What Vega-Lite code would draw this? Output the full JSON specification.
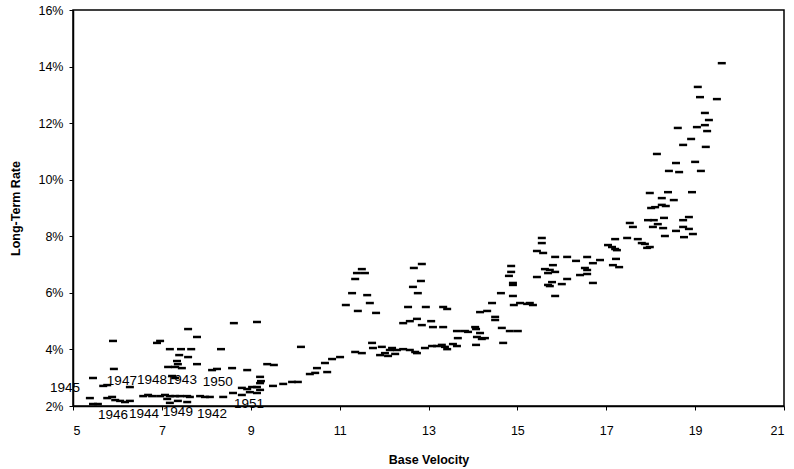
{
  "$schema": "https://vega.github.io/schema/vega-lite/v6.json",
  "autosize": {"type": "none"},
  "width": 711,
  "height": 396,
  "padding": {"left": 73, "top": 10, "right": 10, "bottom": 63},
  "background": "white",
  "config": {
    "view": {"stroke": "black", "strokeWidth": 1.5},
    "font": "Liberation Sans",
    "axis": {
      "labelFont": "Liberation Sans", "labelFontSize": 12.5, "labelColor": "black",
      "titleFont": "Liberation Sans", "titleFontSize": 12.5, "titleFontWeight": "bold", "titleColor": "black",
      "domainColor": "black", "domainWidth": 1.5, "tickColor": "black", "tickSize": 4, "grid": false
    }
  },
  "datasets": {
    "pts": [
      {"v":5.38,"r":2.28},{"v":5.45,"r":2.07},{"v":5.56,"r":2.07},{"v":5.45,"r":2.99},{"v":5.68,"r":2.71},
      {"v":5.77,"r":2.74},{"v":5.77,"r":2.28},{"v":5.88,"r":2.32},{"v":5.95,"r":2.21},{"v":6.06,"r":2.18},
      {"v":6.17,"r":2.14},{"v":6.28,"r":2.18},{"v":5.90,"r":4.30},{"v":5.92,"r":3.31},{"v":6.28,"r":2.67},
      {"v":6.58,"r":2.35},{"v":6.69,"r":2.39},{"v":6.78,"r":2.35},{"v":6.89,"r":4.23},{"v":6.96,"r":4.30},
      {"v":6.96,"r":2.35},{"v":7.07,"r":2.39},{"v":7.12,"r":2.25},{"v":7.18,"r":2.11},{"v":7.18,"r":2.35},
      {"v":7.30,"r":2.35},{"v":7.36,"r":2.18},{"v":7.41,"r":2.35},{"v":7.57,"r":2.14},{"v":7.57,"r":2.35},
      {"v":7.63,"r":2.32},{"v":7.86,"r":2.35},{"v":7.97,"r":2.32},{"v":8.08,"r":2.32},{"v":8.38,"r":2.32},
      {"v":7.18,"r":4.01},{"v":7.43,"r":4.01},{"v":7.66,"r":4.01},{"v":7.59,"r":4.72},{"v":7.79,"r":4.44},
      {"v":7.39,"r":3.80},{"v":7.59,"r":3.73},{"v":7.34,"r":3.59},{"v":7.36,"r":3.48},{"v":7.14,"r":3.38},
      {"v":7.30,"r":3.38},{"v":7.45,"r":3.34},{"v":7.79,"r":3.48},{"v":7.23,"r":3.06},{"v":7.30,"r":2.99},
      {"v":8.13,"r":3.27},{"v":8.24,"r":3.31},{"v":8.33,"r":4.01},{"v":8.58,"r":3.34},{"v":8.62,"r":4.93},
      {"v":9.14,"r":4.97},{"v":8.92,"r":3.27},{"v":8.60,"r":2.46},{"v":8.80,"r":2.64},{"v":8.80,"r":2.39},
      {"v":8.92,"r":2.60},{"v":8.98,"r":2.49},{"v":9.03,"r":2.67},{"v":9.14,"r":2.67},{"v":9.14,"r":2.46},
      {"v":9.21,"r":2.57},{"v":9.21,"r":3.03},{"v":9.23,"r":2.88},{"v":9.21,"r":2.81},{"v":9.37,"r":3.48},
      {"v":9.52,"r":3.45},{"v":9.50,"r":2.71},{"v":9.73,"r":2.78},{"v":9.93,"r":2.85},{"v":10.06,"r":2.85},
      {"v":10.13,"r":4.09},{"v":10.33,"r":3.13},{"v":10.45,"r":3.17},{"v":10.49,"r":3.34},{"v":10.72,"r":3.20},
      {"v":10.67,"r":3.52},{"v":10.83,"r":3.66},{"v":11.01,"r":3.73},{"v":11.35,"r":3.91},{"v":11.50,"r":3.87},
      {"v":11.73,"r":4.23},{"v":11.75,"r":4.05},{"v":11.95,"r":4.09},{"v":11.91,"r":3.80},{"v":12.02,"r":3.87},
      {"v":12.13,"r":3.98},{"v":12.18,"r":4.05},{"v":12.29,"r":3.98},{"v":12.43,"r":4.01},{"v":12.70,"r":3.91},
      {"v":12.74,"r":3.87},{"v":12.92,"r":4.05},{"v":13.08,"r":4.12},{"v":13.30,"r":4.16},{"v":13.37,"r":4.09},
      {"v":13.42,"r":4.01},{"v":13.55,"r":4.19},{"v":13.64,"r":4.12},{"v":11.50,"r":6.84},{"v":11.39,"r":6.70},
      {"v":11.57,"r":6.70},{"v":11.35,"r":6.49},{"v":11.28,"r":5.99},{"v":11.62,"r":5.92},{"v":11.14,"r":5.57},
      {"v":11.68,"r":5.64},{"v":11.41,"r":5.36},{"v":11.82,"r":5.29},{"v":12.85,"r":7.02},{"v":12.67,"r":6.88},
      {"v":12.83,"r":6.42},{"v":12.65,"r":6.21},{"v":12.76,"r":5.99},{"v":12.54,"r":5.50},{"v":12.94,"r":5.50},
      {"v":13.33,"r":5.50},{"v":13.42,"r":5.43},{"v":12.43,"r":4.93},{"v":12.58,"r":5.00},{"v":12.74,"r":5.08},
      {"v":12.85,"r":4.86},{"v":13.06,"r":5.00},{"v":13.10,"r":4.79},{"v":13.33,"r":4.79},{"v":12.09,"r":3.77},
      {"v":12.25,"r":3.84},{"v":12.58,"r":3.98},{"v":13.19,"r":4.12},{"v":13.64,"r":4.65},{"v":13.82,"r":4.65},
      {"v":13.66,"r":4.40},{"v":13.89,"r":4.62},{"v":14.05,"r":4.79},{"v":14.07,"r":4.72},{"v":14.16,"r":4.58},
      {"v":14.27,"r":4.40},{"v":14.09,"r":4.44},{"v":14.20,"r":4.37},{"v":14.07,"r":4.16},{"v":14.16,"r":5.32},
      {"v":14.32,"r":5.36},{"v":14.50,"r":5.15},{"v":14.50,"r":5.04},{"v":14.43,"r":5.64},{"v":14.68,"r":4.23},
      {"v":14.65,"r":4.76},{"v":14.83,"r":4.65},{"v":15.01,"r":4.65},{"v":14.86,"r":6.95},{"v":14.86,"r":6.74},
      {"v":14.81,"r":6.60},{"v":14.90,"r":6.35},{"v":14.90,"r":6.28},{"v":14.90,"r":5.89},{"v":14.63,"r":5.99},
      {"v":14.92,"r":5.57},{"v":15.06,"r":5.64},{"v":15.28,"r":5.64},{"v":15.22,"r":5.61},{"v":15.35,"r":5.57},
      {"v":15.44,"r":7.48},{"v":15.58,"r":7.41},{"v":15.55,"r":7.94},{"v":15.55,"r":7.76},{"v":15.62,"r":6.84},
      {"v":15.69,"r":6.70},{"v":15.73,"r":6.81},{"v":15.69,"r":6.28},{"v":15.78,"r":6.38},{"v":15.73,"r":6.24},
      {"v":15.85,"r":6.74},{"v":15.85,"r":7.27},{"v":15.80,"r":6.98},{"v":15.44,"r":6.56},{"v":15.85,"r":5.89},
      {"v":16.00,"r":6.31},{"v":16.12,"r":7.27},{"v":16.12,"r":6.49},{"v":16.32,"r":7.13},{"v":16.57,"r":7.27},
      {"v":16.52,"r":6.88},{"v":16.57,"r":6.81},{"v":16.41,"r":6.63},{"v":16.57,"r":6.67},{"v":16.70,"r":7.05},
      {"v":16.86,"r":7.16},{"v":16.70,"r":6.35},{"v":17.04,"r":7.69},{"v":17.13,"r":7.62},{"v":17.20,"r":7.55},
      {"v":17.24,"r":7.51},{"v":17.20,"r":7.90},{"v":17.47,"r":7.94},{"v":17.22,"r":7.20},{"v":17.15,"r":6.98},
      {"v":17.29,"r":6.91},{"v":17.53,"r":8.47},{"v":17.60,"r":8.33},{"v":17.71,"r":7.90},{"v":17.80,"r":7.76},
      {"v":17.87,"r":7.73},{"v":17.92,"r":7.59},{"v":17.98,"r":7.62},{"v":17.94,"r":8.57},{"v":18.07,"r":8.57},
      {"v":18.16,"r":8.43},{"v":18.05,"r":8.33},{"v":18.28,"r":8.29},{"v":18.30,"r":8.65},{"v":18.32,"r":8.01},
      {"v":18.57,"r":8.19},{"v":18.73,"r":8.57},{"v":18.73,"r":8.33},{"v":18.86,"r":8.68},{"v":18.86,"r":8.26},
      {"v":18.95,"r":8.08},{"v":18.75,"r":7.97},{"v":18.01,"r":9.00},{"v":18.10,"r":9.03},{"v":18.25,"r":9.11},
      {"v":18.34,"r":9.07},{"v":17.98,"r":9.53},{"v":18.39,"r":9.56},{"v":18.93,"r":9.56},{"v":18.25,"r":9.35},
      {"v":18.52,"r":9.28},{"v":18.14,"r":10.91},{"v":18.57,"r":10.59},{"v":19.00,"r":10.63},{"v":18.41,"r":10.31},
      {"v":18.64,"r":10.27},{"v":19.13,"r":10.31},{"v":18.73,"r":11.23},{"v":18.91,"r":11.44},{"v":19.24,"r":11.16},
      {"v":19.27,"r":11.72},{"v":19.04,"r":11.86},{"v":19.22,"r":11.93},{"v":19.31,"r":12.11},{"v":19.22,"r":12.36},
      {"v":19.49,"r":12.85},{"v":19.11,"r":12.92},{"v":19.06,"r":13.28},{"v":19.60,"r":14.12},{"v":18.61,"r":11.83}
    ],
    "labels": [
      {"label":"1945","v":4.82,"r":2.64},
      {"label":"1947","v":6.10,"r":2.88},
      {"label":"1948","v":6.78,"r":2.92},
      {"label":"1943","v":7.45,"r":2.92},
      {"label":"1950","v":8.26,"r":2.85},
      {"label":"1946","v":5.90,"r":1.68},
      {"label":"1944","v":6.60,"r":1.72},
      {"label":"1949","v":7.36,"r":1.79},
      {"label":"1942","v":8.13,"r":1.72},
      {"label":"1951","v":8.96,"r":2.07}
    ]
  },
  "layer": [
    {
      "data": {"name": "pts"},
      "mark": {"type": "tick", "orient": "horizontal", "size": 8, "thickness": 2.5, "color": "black", "opacity": 1},
      "encoding": {
        "x": {"field": "v", "type": "quantitative",
              "scale": {"domain": [5, 21], "zero": false, "nice": false},
              "axis": {"title": "Base Velocity", "values": [5,7,9,11,13,15,17,19,21], "labelPadding": 14, "titlePadding": 17}},
        "y": {"field": "r", "type": "quantitative",
              "scale": {"domain": [2, 16], "zero": false, "nice": false},
              "axis": {"title": "Long-Term Rate", "values": [2,4,6,8,10,12,14,16], "labelExpr": "datum.value + '%'", "labelPadding": 6, "titlePadding": 15}}
      }
    },
    {
      "data": {"name": "labels"},
      "mark": {"type": "text", "font": "Liberation Sans", "fontSize": 13.5, "color": "black", "align": "center", "baseline": "middle"},
      "encoding": {
        "x": {"field": "v", "type": "quantitative"},
        "y": {"field": "r", "type": "quantitative"},
        "text": {"field": "label", "type": "nominal"}
      }
    }
  ]
}
